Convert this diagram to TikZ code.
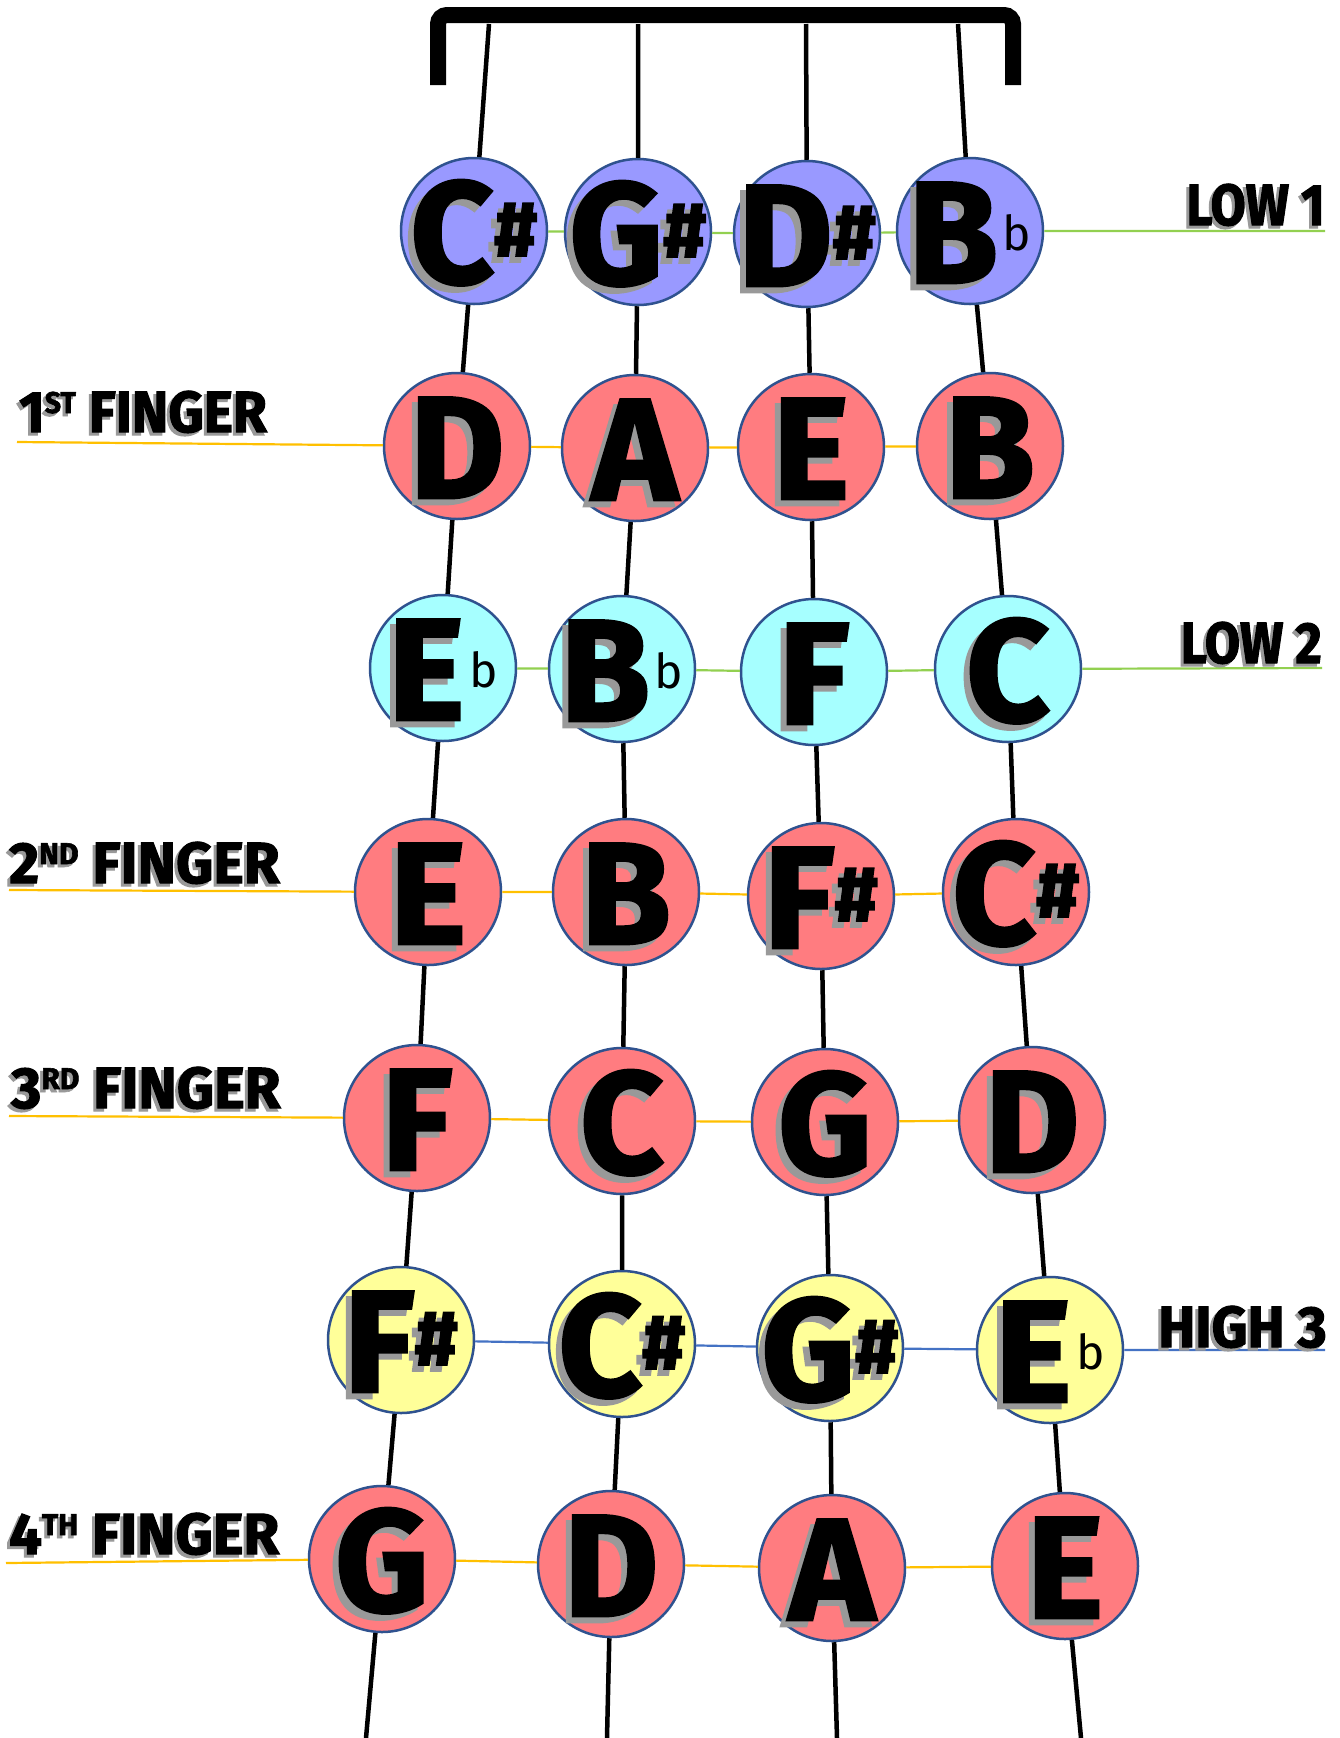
\documentclass[tikz,border=0pt]{standalone}
\usepackage{fontspec}
\setmainfont{Fira Sans}
\newfontfamily\notefont{Fira Sans}[BoldFeatures={FakeBold=2}]
\usetikzlibrary{calc}
\definecolor{lowone}{HTML}{9999FF}
\definecolor{finger}{HTML}{FF7C80}
\definecolor{lowtwo}{HTML}{A6FFFF}
\definecolor{highthree}{HTML}{FFFF99}
\definecolor{rim}{HTML}{2F528F}
\definecolor{gline}{HTML}{92D050}
\definecolor{yline}{HTML}{FFC000}
\definecolor{bline}{HTML}{4472C4}
\newif\ifmainlayer
\newcommand\sh{\raisebox{27pt}{\fontsize{78}{78}\selectfont\#}}
\newcommand\fl{\hspace{5pt}\raisebox{33pt}{\fontsize{48}{48}\selectfont\mdseries\ifmainlayer b\else\phantom{b}\fi}}
\newcommand\sups[1]{\raisebox{19pt}{\fontsize{30}{30}\selectfont #1}}
\tikzset{
  note/.style={circle, draw=rim, line width=2.5, minimum size=146, inner sep=0, fill=#1},
  ntxt/.style={anchor=base, inner sep=0, font=\notefont\bfseries\fontsize{145}{145}\selectfont},
  shad/.style={ntxt, text=black!40},
  mainl/.style={ntxt, text=black, execute at begin node=\mainlayertrue},
  lab/.style={inner sep=0, font=\notefont\bfseries\fontsize{58}{58}\selectfont},
  strg/.style={line width=4.5, black},
  gl/.style={line width=2.2, gline},
  yl/.style={line width=2.2, yline},
  bl/.style={line width=2.2, bline},
}
\newcommand\putnote[2]{%
  \node[shad] (#1s) at ($(#1)+(-6,58)$) {#2};
  \node[mainl] (#1m) at ($(#1)+(0,52)$) {#2};
}
\newcommand\putlabel[5]{%
  \node[lab, text=black!40, anchor=#2] (#1s) at ($#3+(-3,3)$) {\scalebox{#4}[1]{#5}};
  \node[lab, anchor=#2] (#1) at #3 {\scalebox{#4}[1]{#5}};
}
\begin{document}
\begin{tikzpicture}[x=1pt, y=-1pt]
\useasboundingbox[fill=white] (0,0) rectangle (1340,1738);
% bracket
\draw[line width=16, rounded corners=9] (438,85) -- (438,15) -- (1013,15) -- (1013,85);
% circles
\node[note=lowone] (c11) at (474,231) {};
\node[note=lowone] (c12) at (638,232) {};
\node[note=lowone] (c13) at (807,234) {};
\node[note=lowone] (c14) at (970,231) {};
\node[note=finger] (c21) at (457,446) {};
\node[note=finger] (c22) at (635,448) {};
\node[note=finger] (c23) at (811,447) {};
\node[note=finger] (c24) at (990,446) {};
\node[note=lowtwo] (c31) at (443,668) {};
\node[note=lowtwo] (c32) at (622,669) {};
\node[note=lowtwo] (c33) at (814,672) {};
\node[note=lowtwo] (c34) at (1008,669) {};
\node[note=finger] (c41) at (428,892) {};
\node[note=finger] (c42) at (626,892) {};
\node[note=finger] (c43) at (821,896) {};
\node[note=finger] (c44) at (1016,892) {};
\node[note=finger] (c51) at (417,1118) {};
\node[note=finger] (c52) at (622,1121) {};
\node[note=finger] (c53) at (825,1122) {};
\node[note=finger] (c54) at (1032,1120) {};
\node[note=highthree] (c61) at (401,1340) {};
\node[note=highthree] (c62) at (622,1344) {};
\node[note=highthree] (c63) at (830,1348) {};
\node[note=highthree] (c64) at (1050,1350) {};
\node[note=finger] (c71) at (382,1559) {};
\node[note=finger] (c72) at (611,1564) {};
\node[note=finger] (c73) at (832,1568) {};
\node[note=finger] (c74) at (1065,1566) {};
% strings
\coordinate (s1t) at (489,24); \coordinate (s1b) at (366,1738);
\coordinate (s2t) at (638,24); \coordinate (s2b) at (607,1738);
\coordinate (s3t) at (806,24); \coordinate (s3b) at (837,1738);
\coordinate (s4t) at (958,24); \coordinate (s4b) at (1081,1738);
\draw[strg] (s1t) -- (c11) -- (c21) -- (c31) -- (c41) -- (c51) -- (c61) -- (c71) -- (s1b);
\draw[strg] (s2t) -- (c12) -- (c22) -- (c32) -- (c42) -- (c52) -- (c62) -- (c72) -- (s2b);
\draw[strg] (s3t) -- (c13) -- (c23) -- (c33) -- (c43) -- (c53) -- (c63) -- (c73) -- (s3b);
\draw[strg] (s4t) -- (c14) -- (c24) -- (c34) -- (c44) -- (c54) -- (c64) -- (c74) -- (s4b);
% finger lines
\coordinate (g1e) at (1325,231);
\coordinate (y2s) at (17,442);
\coordinate (g3e) at (1322,668);
\coordinate (y4s) at (9,890);
\coordinate (y5s) at (9,1116);
\coordinate (b6e) at (1325,1350);
\coordinate (y7s) at (6,1563);
\draw[gl] (c11) -- (c12) -- (c13) -- (c14) -- (g1e);
\draw[yl] (y2s) -- (c21) -- (c22) -- (c23) -- (c24);
\draw[gl] (c31) -- (c32) -- (c33) -- (c34) -- (g3e);
\draw[yl] (y4s) -- (c41) -- (c42) -- (c43) -- (c44);
\draw[yl] (y5s) -- (c51) -- (c52) -- (c53) -- (c54);
\draw[bl] (c61) -- (c62) -- (c63) -- (c64) -- (b6e);
\draw[yl] (y7s) -- (c71) -- (c72) -- (c73) -- (c74);
% note letters
\putnote{c11}{C\sh}
\putnote{c12}{G\sh}
\putnote{c13}{D\sh}
\putnote{c14}{B\fl}
\putnote{c21}{D}
\putnote{c22}{A}
\putnote{c23}{E}
\putnote{c24}{B}
\putnote{c31}{E\fl}
\putnote{c32}{B\fl}
\putnote{c33}{F}
\putnote{c34}{C}
\putnote{c41}{E}
\putnote{c42}{B}
\putnote{c43}{F\sh}
\putnote{c44}{C\sh}
\putnote{c51}{F}
\putnote{c52}{C}
\putnote{c53}{G}
\putnote{c54}{D}
\putnote{c61}{F\sh}
\putnote{c62}{C\sh}
\putnote{c63}{G\sh}
\putnote{c64}{E\fl}
\putnote{c71}{G}
\putnote{c72}{D}
\putnote{c73}{A}
\putnote{c74}{E}
% labels
\putlabel{l1}{base east}{(1325,225)}{0.88}{LOW 1}
\putlabel{f1}{base west}{(19,432)}{0.95}{1\sups{ST} FINGER}
\putlabel{l2}{base east}{(1322,663)}{0.88}{LOW 2}
\putlabel{f2}{base west}{(9,883)}{1}{2\sups{ND} FINGER}
\putlabel{f3}{base west}{(11,1108)}{1}{3\sups{RD} FINGER}
\putlabel{h3}{base east}{(1327,1347)}{0.96}{HIGH 3}
\putlabel{f4}{base west}{(9,1554)}{1}{4\sups{TH} FINGER}
\end{tikzpicture}
\end{document}
